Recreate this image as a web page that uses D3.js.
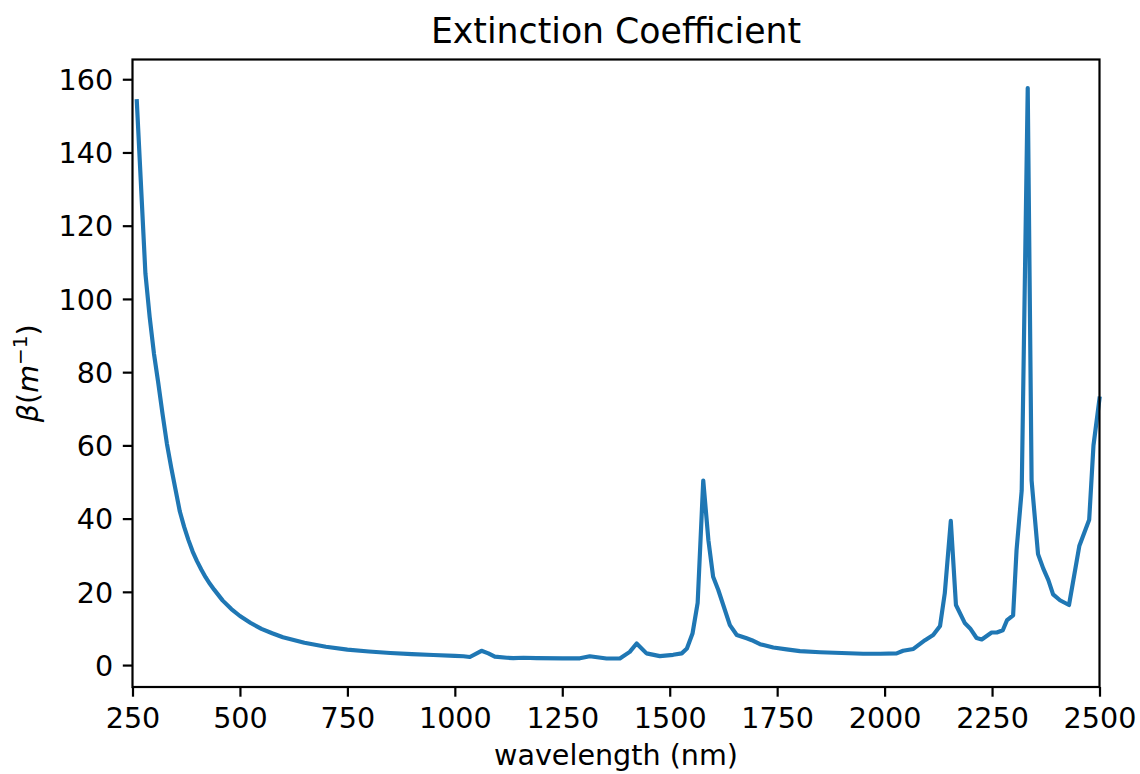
<!DOCTYPE html>
<html>
<head>
<meta charset="utf-8">
<script src="https://cdn.jsdelivr.net/npm/d3@7"></script>
<style>
  html, body { margin: 0; padding: 0; background: #fff; }
  svg { display: block; }
  text { font-family: "DejaVu Sans", sans-serif; fill: #000; }
</style>
</head>
<body>
<svg id="chart" width="1140" height="774"></svg>
<script>
// ---- Data ----
const wavelength = [260,280,290,300,310,320,330,340,350,360,370,380,390,400,410,420,430,440,460,480,500,525,550,575,600,650,700,750,800,850,900,950,1000,1020,1035,1062,1078,1093,1121,1136,1160,1190,1250,1291,1314,1353,1384,1407,1423,1446,1477,1508,1528,1540,1553,1565,1578,1590,1601,1613,1640,1656,1679,1691,1710,1741,1772,1803,1850,1900,1950,1990,2028,2043,2067,2094,2113,2129,2140,2154,2166,2187,2199,2214,2226,2249,2261,2275,2285,2299,2307,2319,2333,2342,2357,2369,2381,2392,2408,2429,2453,2476,2486,2500];
const beta = [154,107,95,85,77,68.5,60.5,54,48,42,37.8,34.2,31,28.4,26.1,24,22.2,20.6,17.6,15.3,13.4,11.5,9.9,8.7,7.6,6.1,5.0,4.2,3.7,3.3,3.0,2.75,2.5,2.4,2.2,3.9,3.2,2.3,2.0,1.9,2.0,1.9,1.85,1.85,2.4,1.8,1.8,3.6,5.9,3.2,2.45,2.8,3.2,4.5,8.6,17,50.4,34.1,24.1,20.5,10.9,8.2,7.3,6.8,5.7,4.8,4.3,3.8,3.5,3.3,3.1,3.1,3.2,3.9,4.4,6.8,8.2,10.7,19.6,39.4,16.4,11.4,10.0,7.4,7.0,8.9,8.9,9.5,12.3,13.6,31.4,47.7,157.6,50.4,30.3,26.4,23.2,19.3,17.7,16.4,32.5,39.7,60,72.8];
const xTicks = [250,500,750,1000,1250,1500,1750,2000,2250,2500];
const yTicks = [0,20,40,60,80,100,120,140,160];
const title = "Extinction Coefficient";
const xLabel = "wavelength (nm)";

// ---- Layout ----
const L = 132.5, R = 1099.5, T = 59.5, B = 687;
const svg = d3.select("#chart");

const x = d3.scaleLinear().domain([250, 2500]).range([L, R]);
const yMin = d3.min(beta), yMax = d3.max(beta), pad = 0.05 * (yMax - yMin);
const y = d3.scaleLinear().domain([yMin - pad, yMax + pad]).range([B, T]);

const tickFont = 28.6;

// line
svg.append("path")
  .datum(wavelength.map((w, i) => [w, beta[i]]))
  .attr("fill", "none")
  .attr("stroke", "#1f77b4")
  .attr("stroke-width", 4.17)
  .attr("stroke-linejoin", "round")
  .attr("stroke-linecap", "square")
  .attr("d", d3.line().x(d => x(d[0])).y(d => y(d[1])));

// axes
const xAxis = svg.append("g").attr("transform", `translate(0,${B})`)
  .call(d3.axisBottom(x).tickValues(xTicks).tickSize(9.7).tickPadding(9.7).tickFormat(d3.format("d")));
const yAxis = svg.append("g").attr("transform", `translate(${L},0)`)
  .call(d3.axisLeft(y).tickValues(yTicks).tickSize(9.7).tickPadding(9.7).tickFormat(d3.format("d")));

[xAxis, yAxis].forEach(g => {
  g.select(".domain").remove();
  g.selectAll(".tick line").attr("stroke", "#000").attr("stroke-width", 2.2);
  g.selectAll(".tick text").style("font-size", tickFont + "px").style("font-family", "DejaVu Sans").attr("fill", "#000");
});
xAxis.selectAll(".tick text").attr("dy", null).attr("y", 9.7 + 9.7 + 0.75 * tickFont);
yAxis.selectAll(".tick text").attr("dy", null).attr("y", 0.36 * tickFont);

// frame (spines)
svg.append("rect")
  .attr("x", L).attr("y", T).attr("width", R - L).attr("height", B - T)
  .attr("fill", "none").attr("stroke", "#000").attr("stroke-width", 2.2);

// title
svg.append("text")
  .attr("x", (L + R) / 2).attr("y", 42.5)
  .attr("text-anchor", "middle")
  .style("font-size", "34.7px")
  .text(title);

// x label
svg.append("text")
  .attr("x", (L + R) / 2).attr("y", 765)
  .attr("text-anchor", "middle")
  .style("font-size", tickFont + "px")
  .text(xLabel);

// y label: β(m^{-1})
const yl = svg.append("text")
  .attr("transform", `translate(38,${(T + B) / 2}) rotate(-90)`)
  .attr("text-anchor", "middle")
  .style("font-size", tickFont + "px");
yl.append("tspan").style("font-style", "italic").text("β");
yl.append("tspan").text("(");
yl.append("tspan").style("font-style", "italic").text("m");
yl.append("tspan").attr("dy", -11).style("font-size", (tickFont * 0.7) + "px").text("−1");
yl.append("tspan").attr("dy", 11).text(")");
</script>
</body>
</html>
